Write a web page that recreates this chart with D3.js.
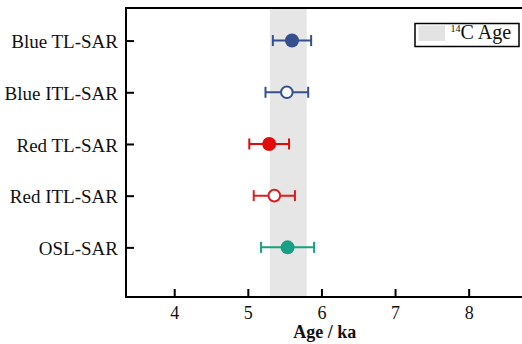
<!DOCTYPE html>
<html><head><meta charset="utf-8">
<script src="https://cdn.jsdelivr.net/npm/d3@7"></script>
<style>body{margin:0;background:#fff;}svg text{font-family:"Times New Roman","Liberation Serif",serif !important;}</style>
</head><body>
<div id="chart"></div>
<script>
const methods = ["Blue TL-SAR","Blue ITL-SAR","Red TL-SAR","Red ITL-SAR","OSL-SAR"];
const ages = [5.60, 5.53, 5.29, 5.36, 5.54];
const errors = [0.26, 0.29, 0.27, 0.28, 0.36];
const filled = [true, false, true, false, true];
const colors = ["#34508e","#34508e","#e10b0b","#d91f1f","#16a085"];
const c14Band = [5.30, 5.80];
const xTicks = [4,5,6,7,8];

const W = 522, H = 344;
const mLeft = 126, mRight = 523.5, mTop = 8, mBottom = 297;
const svg = d3.select("#chart").append("svg").attr("width", W).attr("height", H);

const x = d3.scaleLinear().domain([3.345, 8.745]).range([mLeft, mRight]);
const y = d3.scaleLinear().domain([-0.63, 4.96]).range([mTop, mBottom]);

// band
svg.append("rect").attr("x", x(c14Band[0])).attr("y", mTop)
  .attr("width", x(c14Band[1]) - x(c14Band[0])).attr("height", mBottom - mTop)
  .attr("fill", "#e6e6e6");

// axes
const xAxis = d3.axisBottom(x).tickValues(xTicks).tickSizeInner(-8).tickSizeOuter(0).tickPadding(9).tickFormat(d3.format("d"));
const gx = svg.append("g").attr("transform", `translate(0,${mBottom})`).call(xAxis);
gx.select(".domain").attr("stroke-width", 2).attr("d", `M${mLeft-1},0H${W+2}`);
gx.selectAll(".tick line").attr("stroke-width", 2);
gx.selectAll(".tick text").attr("font-size", 18).attr("fill", "#111");

const yAxis = d3.axisLeft(y).tickValues(d3.range(methods.length)).tickFormat(i => methods[i]).tickSizeInner(-8).tickSizeOuter(0).tickPadding(8);
const gy = svg.append("g").attr("transform", `translate(${mLeft},0)`).call(yAxis);
gy.select(".domain").attr("stroke-width", 2).attr("d", `M0,${mTop}V${mBottom+1}`);
gy.selectAll(".tick line").attr("stroke-width", 2);
gy.selectAll(".tick text").attr("font-size", 19).attr("dy", "0.38em").attr("fill", "#111");

// top frame
svg.append("line").attr("x1", mLeft - 1).attr("x2", W + 2).attr("y1", mTop).attr("y2", mTop)
  .attr("stroke", "#000").attr("stroke-width", 2);

// x title
svg.append("text").attr("x", (mLeft + mRight) / 2).attr("y", 338).attr("text-anchor", "middle")
  .attr("font-size", 18).attr("font-weight", "bold").attr("fill", "#111").text("Age / ka");

// error bars and points
const g = svg.append("g");
methods.forEach((m, i) => {
  const cy = y(i), c = colors[i];
  const x0 = x(ages[i] - errors[i]), x1 = x(ages[i] + errors[i]);
  g.append("line").attr("x1", x0).attr("x2", x1).attr("y1", cy).attr("y2", cy).attr("stroke", c).attr("stroke-width", 2);
  [x0, x1].forEach(xx => g.append("line").attr("x1", xx).attr("x2", xx).attr("y1", cy - 5.5).attr("y2", cy + 5.5).attr("stroke", c).attr("stroke-width", 2));
  if (filled[i]) {
    g.append("circle").attr("cx", x(ages[i])).attr("cy", cy).attr("r", 7).attr("fill", c);
  } else {
    g.append("circle").attr("cx", x(ages[i])).attr("cy", cy).attr("r", 5.8).attr("fill", "#fff").attr("stroke", c).attr("stroke-width", 2);
  }
});

// legend
const lg = svg.append("g");
lg.append("rect").attr("x", 415).attr("y", 23.5).attr("width", 104).attr("height", 23).attr("fill", "#fff").attr("stroke", "#000").attr("stroke-width", 1.5);
lg.append("rect").attr("x", 418.5).attr("y", 25.5).attr("width", 26.5).attr("height", 15.5).attr("fill", "#e3e3e3");
const lt = lg.append("text").attr("x", 450.5).attr("y", 38.7).attr("font-size", 20).attr("fill", "#111");
lt.append("tspan").attr("font-size", 10).attr("dy", -7).text("14");
lt.append("tspan").attr("dy", 7).text("C Age");
</script>
</body></html>
